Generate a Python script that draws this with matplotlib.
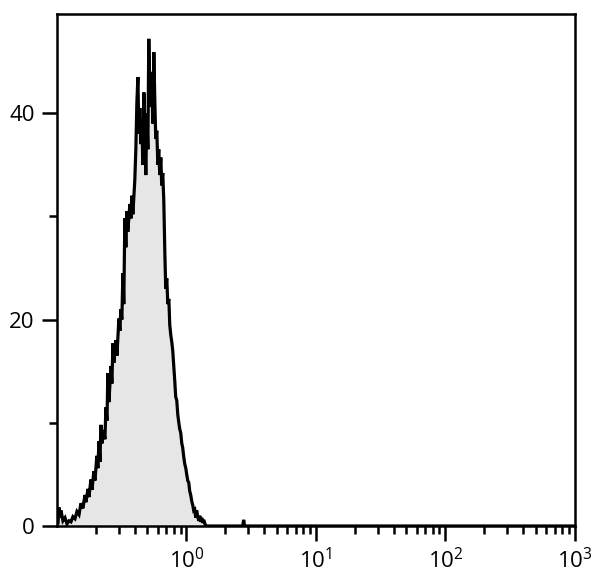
import numpy as np
import matplotlib
matplotlib.use('Agg')
import matplotlib.pyplot as plt
from matplotlib.ticker import LogLocator, MultipleLocator, NullFormatter

plt.rcParams['font.family'] = ['Open Sans', 'DejaVu Sans']
plt.rcParams['mathtext.fontset'] = 'custom'
plt.rcParams['mathtext.rm'] = 'Open Sans'

# histogram: log10 of fluorescence and event count
log_fl = [-0.992, -0.985, -0.977, -0.969, -0.954, -0.938, -0.923, -0.907, -0.892, -0.877,
          -0.861, -0.846, -0.830, -0.815, -0.800, -0.784, -0.776, -0.761, -0.753, -0.738,
          -0.730, -0.715, -0.707, -0.692, -0.684, -0.676, -0.668, -0.661, -0.653, -0.638,
          -0.630, -0.622, -0.614, -0.607, -0.599, -0.583, -0.576, -0.568, -0.561, -0.545,
          -0.537, -0.522, -0.514, -0.507, -0.499, -0.491, -0.484, -0.476, -0.468, -0.460,
          -0.453, -0.437, -0.429, -0.422, -0.414, -0.399, -0.391, -0.383, -0.375, -0.368,
          -0.360, -0.352, -0.345, -0.337, -0.329, -0.322, -0.314, -0.306, -0.298, -0.291,
          -0.283, -0.275, -0.268, -0.260, -0.252, -0.244, -0.237, -0.229, -0.221, -0.214,
          -0.206, -0.198, -0.191, -0.183, -0.175, -0.167, -0.160, -0.152, -0.144, -0.136,
          -0.129, -0.121, -0.113, -0.106, -0.098, -0.090, -0.083, -0.075, -0.067, -0.059,
          -0.052, -0.044, -0.036, -0.029, -0.021, -0.013, -0.005, 0.002, 0.010, 0.018,
          0.025, 0.033, 0.041, 0.049, 0.056, 0.064, 0.072, 0.079, 0.087, 0.095,
          0.103, 0.110, 0.118, 0.126, 0.133, 0.141, 0.149, 0.160, 0.434, 0.442,
          0.449, 0.600, 1.000, 2.000, 3.000]
counts = [0.3, 1.8, 0.8, 1.5, 0.5, 0.8, 0.2, 0.5, 0.4, 0.9,
          0.7, 1.4, 1.1, 2.2, 1.7, 3.0, 2.3, 3.6, 2.8, 4.5,
          3.5, 5.3, 4.4, 6.8, 5.6, 8.2, 6.2, 9.8, 8.0, 9.3,
          8.4, 11.5, 10.2, 14.8, 12.0, 15.5, 13.8, 17.7, 15.8, 18.0,
          16.5, 20.1, 18.9, 21.0, 20.0, 24.5, 21.5, 29.8, 27.0, 30.5,
          28.5, 31.2, 29.8, 32.0, 30.2, 33.5, 36.5, 41.0, 43.5, 38.0,
          40.5, 37.0, 39.5, 35.0, 42.0, 38.5, 34.0, 40.0, 36.5, 47.2,
          42.0, 40.6, 44.0, 39.0, 45.9, 41.0, 37.5, 38.3, 35.0, 36.5,
          34.0, 35.7, 33.0, 34.2, 31.5, 26.5, 23.0, 24.0, 21.5, 22.0,
          19.5, 18.5, 17.8, 17.0, 15.5, 14.0, 12.5, 12.2, 10.8, 10.0,
          9.4, 9.0, 8.0, 7.6, 6.7, 6.0, 5.6, 5.0, 4.4, 4.2,
          3.4, 3.0, 2.4, 2.0, 1.5, 1.6, 0.8, 1.5, 0.9, 0.5,
          1.0, 0.4, 0.8, 0.3, 0.6, 0.3, 0.0, 0.0, 0.0, 0.6,
          0.0, 0.0, 0.0, 0.0, 0.0]

x_major = [1, 10, 100, 1000]
x_labels = ['$10^{0}$', '$10^{1}$', '$10^{2}$', '$10^{3}$']
y_major = [0, 20, 40]

fl = 10 ** np.array(log_fl)
cnt = np.array(counts)

fig = plt.figure(figsize=(6.0, 5.86), dpi=100)
ax = fig.add_axes([0.095, 0.1024, 0.863, 0.8736])

ax.fill_between(fl, cnt, 0, color='#e6e6e6', linewidth=0)
ax.plot(fl, cnt, color='black', linewidth=2.3, solid_joinstyle='miter')

ax.set_xscale('log')
ax.set_xlim(0.1, 1000)
ax.set_ylim(0, 49.6)

ax.set_xticks(x_major)
ax.set_xticklabels(x_labels)
ax.xaxis.set_minor_locator(LogLocator(base=10, subs=np.arange(2, 10)))
ax.xaxis.set_minor_formatter(NullFormatter())
ax.set_yticks(y_major)
ax.set_yticklabels([str(v) for v in y_major])
ax.yaxis.set_minor_locator(MultipleLocator(10))

for side in ['left', 'bottom', 'top', 'right']:
    ax.spines[side].set_linewidth(1.8)

ax.tick_params(which='major', direction='out', length=11, width=1.8,
               labelsize=16, pad=5)
ax.tick_params(which='minor', direction='out', length=5.5, width=1.8)
ax.tick_params(top=False, right=False)

fig.savefig('out.png', dpi=100)
